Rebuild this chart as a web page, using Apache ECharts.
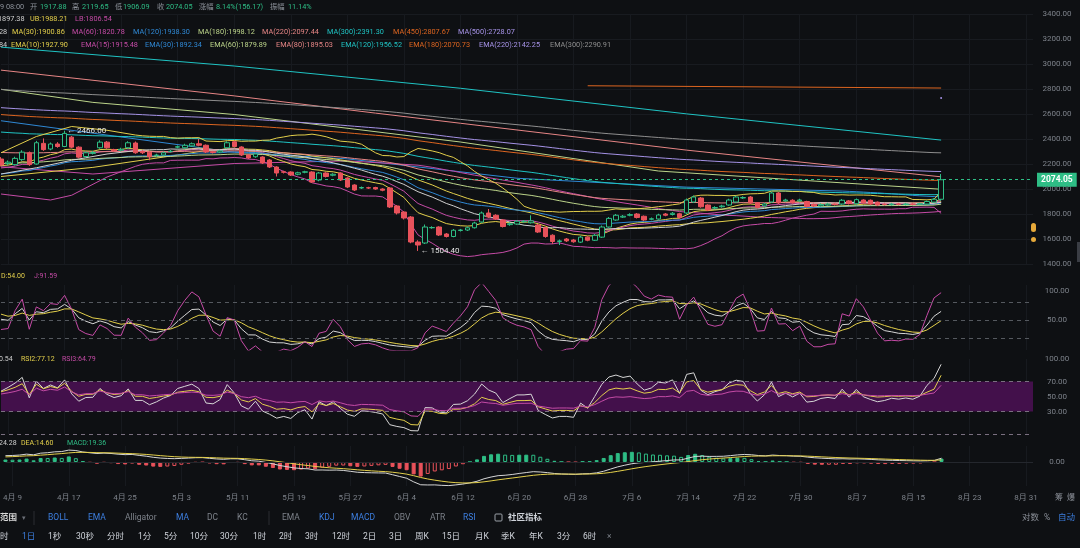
<!DOCTYPE html>
<html><head><meta charset="utf-8">
<script src="https://cdn.jsdelivr.net/npm/echarts/dist/echarts.min.js"></script>
<style>html,body{margin:0;padding:0;background:#0e1013;}#c{width:1080px;height:548px;}</style>
</head><body><div id="c"></div>
<script>
// ---------- data ----------
const opens = [2240,2205,2195,2235,2290,2200,2365,2320,2360,2340,2415,2335,2260,2285,2330,2375,2315,2310,2330,2368,2300,2295,2268,2272,2300,2335,2330,2345,2362,2350,2298,2295,2330,2378,2336,2272,2258,2256,2232,2176,2138,2136,2118,2134,2136,2072,2128,2110,2128,2088,2032,2008,2010,2012,2000,2008,1864,1816,1776,1576,1568,1690,1696,1640,1620,1668,1672,1690,1736,1808,1790,1752,1715,1720,1738,1730,1712,1690,1630,1580,1600,1592,1575,1615,1590,1615,1696,1752,1775,1790,1800,1782,1758,1760,1800,1796,1802,1808,1896,1928,1872,1848,1858,1872,1896,1928,1936,1890,1865,1896,1968,1905,1910,1905,1900,1878,1865,1872,1880,1880,1905,1882,1912,1910,1895,1878,1874,1880,1876,1880,1878,1880,1895,1917.88];
const closes = [2192,2215,2245,2295,2195,2370,2315,2360,2340,2445,2335,2255,2290,2292,2375,2330,2305,2318,2370,2290,2290,2258,2272,2290,2302,2338,2350,2362,2350,2296,2292,2305,2370,2340,2272,2248,2280,2208,2176,2128,2134,2112,2130,2138,2056,2128,2100,2118,2072,2016,1992,2012,2008,2000,1990,1856,1808,1768,1576,1552,1696,1692,1632,1620,1670,1672,1690,1728,1808,1776,1760,1700,1722,1742,1742,1745,1656,1620,1580,1585,1585,1578,1615,1590,1630,1696,1765,1790,1782,1795,1772,1752,1762,1792,1790,1806,1772,1912,1936,1858,1832,1852,1864,1912,1936,1932,1888,1852,1880,1968,1888,1912,1890,1912,1860,1864,1876,1880,1876,1910,1884,1915,1890,1880,1872,1875,1880,1878,1880,1878,1882,1900,1918,2074.05];
const highs = [2255,2228,2258,2310,2300,2385,2405,2372,2375,2466,2425,2342,2300,2305,2390,2384,2322,2330,2382,2380,2310,2302,2282,2300,2312,2348,2362,2372,2400,2356,2305,2314,2382,2386,2342,2280,2290,2262,2240,2182,2146,2142,2138,2146,2142,2136,2134,2126,2134,2094,2038,2020,2018,2018,2006,2014,1872,1822,1784,1590,1716,1702,1702,1648,1680,1680,1700,1738,1820,1840,1798,1758,1732,1752,1752,1790,1720,1698,1638,1596,1608,1600,1626,1622,1640,1708,1776,1800,1792,1806,1808,1788,1772,1802,1808,1816,1810,1924,1948,1936,1878,1862,1874,1922,1946,1942,1944,1896,1890,1978,1976,1922,1918,1922,1906,1884,1886,1890,1886,1920,1912,1924,1918,1916,1900,1886,1888,1888,1888,1886,1890,1908,1926,2119.65];
const lows = [2180,2190,2188,2225,2185,2195,2305,2310,2330,2335,2328,2245,2250,2276,2322,2322,2296,2300,2322,2282,2280,2230,2258,2265,2292,2325,2322,2338,2342,2288,2284,2288,2322,2332,2264,2240,2250,2200,2168,2100,2124,2104,2110,2126,2048,2062,2092,2102,2064,2008,1984,2000,2000,1994,1982,1848,1796,1756,1566,1504.4,1560,1682,1624,1612,1614,1660,1664,1684,1730,1768,1752,1692,1706,1714,1730,1724,1648,1610,1560,1552,1576,1570,1568,1582,1584,1608,1690,1746,1768,1782,1764,1744,1750,1754,1782,1788,1764,1800,1888,1850,1824,1840,1850,1866,1890,1920,1880,1844,1858,1890,1880,1898,1882,1898,1852,1856,1858,1866,1868,1874,1876,1876,1882,1872,1864,1868,1868,1870,1870,1870,1872,1874,1888,1906.09];

// line readings (category index, value) for long averages whose history is off-screen
const bollUbRead  = [[0,2290],[5,2420],[10,2500],[15,2470]];
const bollMidRead = [[0,2120],[5,2170],[10,2230],[15,2280]];
const bollLbRead  = [[0,1960],[7,1912],[10,1950],[15,2096]];
const ma30Read  = [[0,2100],[13,2173],[25,2272]];
const ma60Read  = [[0,2178],[13,2120],[33,2204],[49,2225]];
const ma120Read = [[0,2546],[33,2294],[49,2241],[73,2086],[97,2015]];
const ma180Read = [[0,2798],[13,2693],[33,2596],[65,2376],[93,2144],[133,1998.12]];
const ma220Read = [[0,2951],[33,2745],[53,2607],[65,2526],[97,2311],[133,2097.44]];
const ma300Read = [[0,3135],[33,2984],[65,2806],[97,2601],[133,2391.30]];
const ma450Read = [[83,2826],[133,2807.67]];
const ma500Read = [[133,2728.07]];
// starting values read at the left edge
const emaPeriods = [10,15,30,60,80,120,180,220,300];
const emaSeeds   = [2185,2165,2115,2205,2295,2460,2600,2655,2800];
const kdjSeed  = [70,65];
const rsiSeed  = [[20,35],[18,32],[16,30]];
const macdSeed = [2160,2120,30];

const monthLen = [30,31,30,31,31,30]; // Apr..Sep
const startMonth = 4, startDay = 8, catCount = 147;

// ---------- build ----------
const cats = [];
{ let m = 0, d = startDay; for (let k = 0; k < catCount; k++) { cats.push((startMonth + m) + '月 ' + d); d++; if (d > monthLen[m]) { d = 1; m++; } } }
const N = closes.length;
function sma(a, n){ const r=[]; let s=0; for(let i=0;i<a.length;i++){ s+=a[i]; if(i>=n) s-=a[i-n]; r.push(i>=n-1 ? s/n : null);} return r; }
function ema(a, n, seed){ const k=2/(n+1); let e=seed; return a.map(v => (e = k*v + (1-k)*e)); }
function merge(reads, comp){ const out = reads.filter(p => comp[p[0]] == null).map(p => p.slice()); comp.forEach((v,i)=>{ if(v!=null) out.push([i,v]); }); return out.sort((a,b)=>a[0]-b[0]); }
const mid20 = sma(closes,20);
const ub = [], lb = [];
mid20.forEach((m,i)=>{ if(m==null){ub.push(null);lb.push(null);return;} let s=0; for(let j=i-19;j<=i;j++) s+=(closes[j]-m)**2; const sd=Math.sqrt(s/20); ub.push(m+2*sd); lb.push(m-2*sd); });
const emas = emaPeriods.map((p,k)=>ema(closes,p,emaSeeds[k]));
// KDJ
const kArr=[],dArr=[],jArr=[]; { let K=kdjSeed[0], D=kdjSeed[1]; for(let i=0;i<N;i++){ let lo=Infinity, hi=-Infinity; for(let j=Math.max(0,i-8);j<=i;j++){lo=Math.min(lo,lows[j]);hi=Math.max(hi,highs[j]);} const rsv = hi===lo?50:(closes[i]-lo)/(hi-lo)*100; K=(2*K+rsv)/3; D=(2*D+K)/3; kArr.push(K); dArr.push(D); jArr.push(3*K-2*D);} }
// RSI
const rsiP=[6,12,24]; const rsis = rsiP.map((n,k)=>{ let up=rsiSeed[k][0], ab=rsiSeed[k][1]; const r=[up/ab*100]; for(let i=1;i<N;i++){ const d=closes[i]-closes[i-1]; up=(Math.max(d,0)+(n-1)*up)/n; ab=(Math.abs(d)+(n-1)*ab)/n; r.push(ab===0?50:up/ab*100);} return r; });
// MACD
const dif=[],dea=[],hist=[]; { let e12=macdSeed[0], e26=macdSeed[1], de=macdSeed[2]; for(let i=0;i<N;i++){ e12=(2*closes[i]+11*e12)/13; e26=(2*closes[i]+25*e26)/27; const df=e12-e26; de=(2*df+8*de)/10; dif.push(df); dea.push(de); hist.push(2*(df-de)); } }
const UP='#2ebd85', DN='#e8525b', BG='#0e1013';
const histItems = hist.map((v,i)=>{ const prev = i>0?hist[i-1]:v; const c = v>=0?UP:DN; const filled = v>=0 ? v>=prev : v<=prev; return {value:v, itemStyle:{color: filled?c:BG, borderColor:c, borderWidth:1}}; });

const COL = {yellow:'#e3cf4b', magenta:'#c54ba6', blue:'#2f88d4', lgreen:'#bcd48a', salmon:'#e68585', cyan:'#1fc3c3', orange:'#dd6520', lavender:'#a592e6', grey:'#8e8e8e', white:'#cfcfcf'};
const emaColors = [COL.yellow,COL.magenta,COL.blue,COL.lgreen,COL.salmon,COL.cyan,COL.orange,COL.lavender,COL.grey];

function L(name, data, color, g, extra){ return Object.assign({type:'line', name, data, xAxisIndex:g, yAxisIndex:g, showSymbol:false, symbol:'none', connectNulls:true, silent:true, animation:false, lineStyle:{width:1,color}, itemStyle:{color}}, extra||{}); }
const tickFn = idx => (idx-1) % 8 === 0;
const grids = [
  {left:1,right:47,top:14,height:250},
  {left:1,right:47,top:285,height:65},
  {left:1,right:47,top:359,height:75},
  {left:1,right:47,top:446,height:40}
];
const xAxes = grids.map((g,k)=>({type:'category', gridIndex:k, data:cats, boundaryGap:false, axisLine:{show:false}, axisTick:{show:false},
  axisLabel:{show:k===3, interval:tickFn, color:'#7d828a', fontSize:8, margin:8, fontFamily:'Roboto, "Noto Sans CJK SC", sans-serif'},
  splitLine:{show:true, interval:tickFn, lineStyle:{color:'#171a1f', width:1}}}));
const lab = {color:'#7d828a', fontSize:8, margin:24, align:'center', fontFamily:'Roboto, sans-serif'};
const yAxes = [
  {gridIndex:0, position:'right', min:1400, max:3400, interval:200, axisLabel:Object.assign({formatter:v=>v.toFixed(2)},lab), splitLine:{lineStyle:{color:'#181b20'}}, axisLine:{show:false}, axisTick:{show:false}},
  {gridIndex:1, position:'right', min:0, max:110, interval:50, axisLabel:Object.assign({formatter:v=>(v===50||v===100)?v.toFixed(2):''},lab), splitLine:{show:false}, axisLine:{show:false}, axisTick:{show:false}},
  {gridIndex:2, position:'right', min:0, max:100, interval:10, axisLabel:Object.assign({formatter:v=>[30,50,70,100].includes(v)?v.toFixed(2):''},lab), splitLine:{show:false}, axisLine:{show:false}, axisTick:{show:false}},
  {gridIndex:3, position:'right', min:-150, max:100, interval:50, axisLabel:Object.assign({formatter:v=>v===0?'0.00':''},lab), splitLine:{show:false}, axisLine:{show:false}, axisTick:{show:false}}
];
const dashed = c => ({type:[4,4], color:c, width:1});
const series = [
  {type:'candlestick', xAxisIndex:0, yAxisIndex:0, data:opens.map((o,i)=>[o,closes[i],lows[i],highs[i]]), barWidth:5, animation:false, silent:true, z:3,
   itemStyle:{color:BG, color0:DN, borderColor:UP, borderColor0:DN, borderWidth:1},
   markPoint:{symbol:'circle', symbolSize:1, itemStyle:{color:'rgba(0,0,0,0)'}, silent:true, animation:false,
     label:{show:true, position:'right', distance:2, color:'#e6e6e6', fontSize:8, fontFamily:'Roboto, sans-serif', formatter:p=>'← '+Number(p.value).toFixed(2)},
     data:[{type:'max', valueDim:'highest'},{type:'min', valueDim:'lowest'}]},
   markLine:{symbol:['none','none'], silent:true, animation:false, lineStyle:{type:[3,3], color:UP, width:1},
     label:{show:true, position:'end', distance:4, formatter:()=>closes[N-1].toFixed(2), backgroundColor:UP, color:'#ffffff', padding:[3,4,2,4], fontSize:8.5, fontWeight:'bold', fontFamily:'Roboto, sans-serif'},
     data:[{yAxis:closes[N-1]}]}},
  L('MA300', ma300Read, COL.cyan, 0),
  L('MA220', ma220Read, COL.salmon, 0),
  L('MA180', ma180Read, COL.lgreen, 0),
  L('MA450', ma450Read, COL.orange, 0),
  L('MA500', ma500Read, COL.lavender, 0, {showSymbol:true, symbol:'circle', symbolSize:2}),
  L('MA120', merge(ma120Read, sma(closes,120)), COL.blue, 0),
  L('MA60', merge(ma60Read, sma(closes,60)), COL.magenta, 0),
  L('MA30', merge(ma30Read, sma(closes,30)), COL.yellow, 0),
  ...emas.map((e,k)=>L('EMA'+emaPeriods[k], e, emaColors[k], 0)),
  L('UB', merge(bollUbRead, ub), COL.yellow, 0),
  L('MID', merge(bollMidRead, mid20), COL.white, 0),
  L('LB', merge(bollLbRead, lb), COL.magenta, 0),
  L('K', kArr, '#d6d6d6', 1, {markLine:{symbol:['none','none'], silent:true, animation:false, label:{show:false}, lineStyle:dashed('#55595f'), data:[{yAxis:20},{yAxis:50},{yAxis:80}]}}),
  L('D', dArr, COL.yellow, 1),
  L('J', jArr, COL.magenta, 1),
  L('RSI1', rsis[0], '#d6d6d6', 2, {markArea:{silent:true, itemStyle:{color:'#43104b'}, data:[[{yAxis:30},{yAxis:70}]]},
     markLine:{symbol:['none','none'], silent:true, animation:false, label:{show:false}, lineStyle:dashed('#7a6f80'), data:[{yAxis:30},{yAxis:70},{yAxis:0}]}}),
  L('RSI2', rsis[1], COL.yellow, 2),
  L('RSI3', rsis[2], COL.magenta, 2),
  {type:'bar', xAxisIndex:3, yAxisIndex:3, data:histItems, barWidth:4, silent:true, animation:false,
   markLine:{symbol:['none','none'], silent:true, animation:false, label:{show:false}, lineStyle:{type:'solid', color:'#24272d', width:1}, data:[{yAxis:0}]}},
  L('DIF', dif, '#d6d6d6', 3),
  L('DEA', dea, COL.yellow, 3)
];

// ---------- texts ----------
const FF = 'Roboto, "Noto Sans CJK SC", sans-serif';
function T(text, x, y, fill, size, weight){ return {type:'text', x, y, silent:true, z:100, style:{text, fill, font:(weight||'normal')+' '+(size||7.5)+'px '+FF, verticalAlign:'middle'}}; }
const G='#8d929a', V=UP, B='#3d7fe0', W='#cfd3da', D2='#7d828a';
const texts = [
  ['9 08:00',0,7,G],['开',30,7,G],['1917.88',40,7,V],['高',72,7,G],['2119.65',82,7,V],['低',115,7,G],['1906.09',123,7,V],['收',157,7,G],['2074.05',166,7,V],['涨幅',199,7,G],['8.14%(156.17)',216,7,V],['振幅',270,7,G],['11.14%',288,7,V],
  ['1897.38',-2,19.5,COL.white],['UB:1988.21',30,19.5,COL.yellow],['LB:1806.54',75,19.5,COL.magenta],
  ['28',-1,32,COL.white],['MA(30):1900.86',12,32,COL.yellow],['MA(60):1820.78',72,32,COL.magenta],['MA(120):1938.30',133,32,COL.blue],['MA(180):1998.12',198,32,COL.lgreen],['MA(220):2097.44',262,32,COL.salmon],['MA(300):2391.30',327,32,COL.cyan],['MA(450):2807.67',393,32,COL.orange],['MA(500):2728.07',458,32,COL.lavender],
  ['.84',-3,45,COL.white],['EMA(10):1927.90',11,45,COL.yellow],['EMA(15):1915.48',81,45,COL.magenta],['EMA(30):1892.34',145,45,COL.blue],['EMA(60):1879.89',210,45,COL.lgreen],['EMA(80):1895.03',276,45,COL.salmon],['EMA(120):1956.52',341,45,COL.cyan],['EMA(180):2070.73',409,45,COL.orange],['EMA(220):2142.25',479,45,COL.lavender],['EMA(300):2290.91',550,45,COL.grey]
].map(a=>T(a[0],a[1],a[2],a[3],7.3));
const subTexts = [
  ['D:54.00',1,276,COL.yellow],['J:91.59',34,276,COL.magenta],
  ['0.54',-1,359,COL.white],['RSI2:77.12',21,359,COL.yellow],['RSI3:64.79',62,359,COL.magenta],
  ['24.28',-1,443,COL.white],['DEA:14.60',21,443,COL.yellow],['MACD:19.36',67,443,UP]
].map(a=>T(a[0],a[1],a[2],a[3],7));
const row1 = [['BOLL',48,B],['EMA',88,B],['Alligator',125,D2],['MA',176,B],['DC',207,D2],['KC',237,D2],['EMA',282,D2],['KDJ',319,B],['MACD',351,B],['OBV',394,D2],['ATR',430,D2],['RSI',463,B],['对数',1022,G],['%',1044,G],['自动',1058,B]].map(a=>T(a[0],a[1],518,a[2],8.5));
const row2 = [['时',0,W],['1日',22,B],['1秒',48,W],['30秒',76,W],['分时',107,W],['1分',138,W],['5分',164,W],['10分',190,W],['30分',220,W],['1时',253,W],['2时',279,W],['3时',305,W],['12时',332,W],['2日',363,W],['3日',389,W],['周K',415,W],['15日',442,W],['月K',475,W],['季K',501,W],['年K',529,W],['3分',557,W],['6时',583,W],['×',607,D2]].map(a=>T(a[0],a[1],537,a[2],8.5));
const extras = [
  T('范围',0,518,'#d8d8d8',8.5,'bold'), T('▾',22,518,'#6c7078',7),
  T('社区指标',508,518,W,8.5,'bold'), T('筹',1055,498,G,8), T('爆',1067,498,G,8),
  {type:'rect', silent:true, z:100, shape:{x:495,y:514,width:7,height:7,r:1}, style:{fill:'none', stroke:'#9aa0a8', lineWidth:1}},
  {type:'line', silent:true, z:100, shape:{x1:34,y1:511,x2:34,y2:525}, style:{stroke:'#2a2d33', lineWidth:1}},
  {type:'line', silent:true, z:100, shape:{x1:269,y1:511,x2:269,y2:525}, style:{stroke:'#2a2d33', lineWidth:1}},
  {type:'rect', silent:true, z:100, shape:{x:1031,y:223,width:5,height:9,r:2.5}, style:{fill:'#e6a93a'}},
  {type:'circle', silent:true, z:100, shape:{cx:1033.5,cy:239.5,r:2.5}, style:{fill:'#e6a93a'}},
  {type:'rect', silent:true, z:100, shape:{x:1077,y:242,width:3,height:20}, style:{fill:'#3a3d44'}}
];

const chart = echarts.init(document.getElementById('c'), null, {renderer:'canvas'});
chart.setOption({backgroundColor:BG, animation:false, grid:grids, xAxis:xAxes, yAxis:yAxes, series, graphic:[...texts, ...subTexts, ...row1, ...row2, ...extras]});
</script></body></html>
